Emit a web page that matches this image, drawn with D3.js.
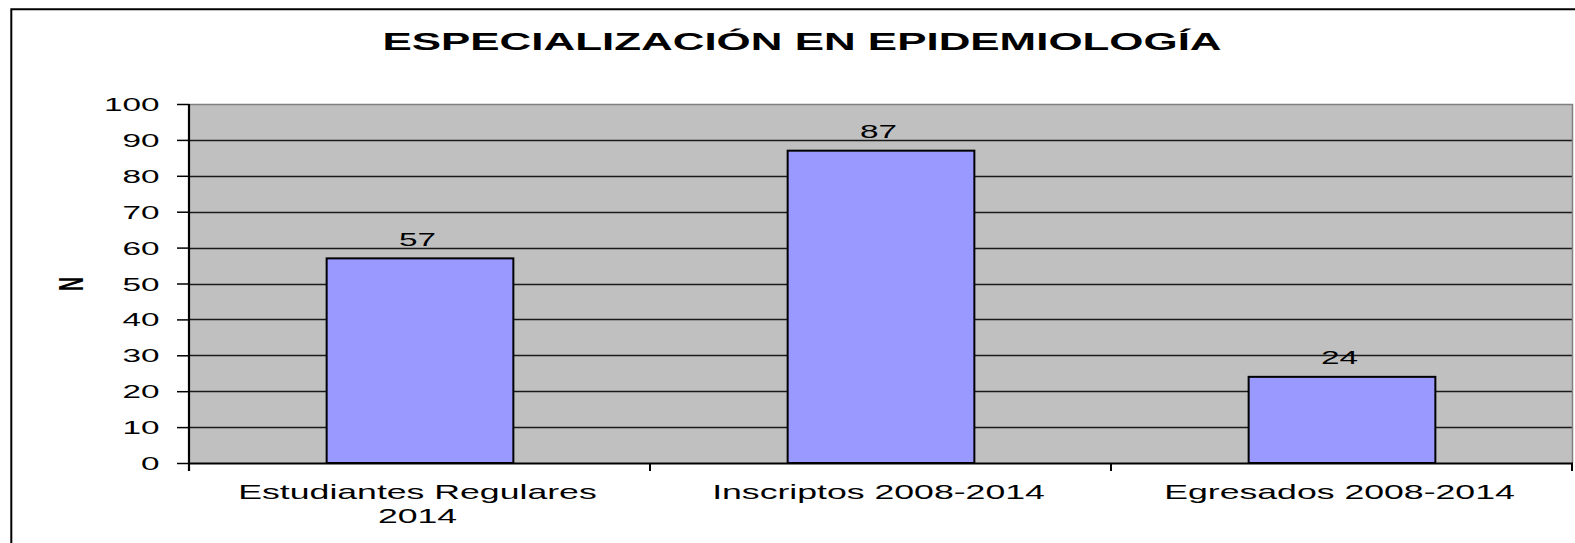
<!DOCTYPE html>
<html>
<head>
<meta charset="utf-8">
<script src="https://cdn.jsdelivr.net/npm/d3@7"></script>
<style>
  html, body { margin: 0; padding: 0; background: #ffffff; }
  svg { display: block; }
  text { font-family: "Liberation Sans", Arial, sans-serif; fill: #000; }
</style>
</head>
<body>
<svg id="chart" width="1575" height="543"></svg>
<script>
// Chart content
const chartTitle = "ESPECIALIZACIÓN EN EPIDEMIOLOGÍA";
const yAxisTitle = "N";
const categories = ["Estudiantes Regulares\n2014", "Inscriptos 2008-2014", "Egresados 2008-2014"];
const values = [57, 87, 24];
const yTicks = [0, 10, 20, 30, 40, 50, 60, 70, 80, 90, 100];

// Layout
const W = 1575, H = 543;
const plot = { left: 189, right: 1572, top: 104, bottom: 463 };
const SX = 1.8; // horizontal stretch applied to all text glyphs

const svg = d3.select("#chart");

// Outer frame (open to the right and bottom, cropped there)
svg.append("path")
  .attr("d", `M11.3,${H + 2} L11.3,9.3 L${W + 2},9.3`)
  .attr("fill", "none").attr("stroke", "#000").attr("stroke-width", 2);

const x = d3.scaleBand().domain(categories).range([plot.left, plot.right]).padding(0);
const y = d3.scaleLinear().domain([0, 100]).range([plot.bottom, plot.top]);

// Plot background
svg.append("rect")
  .attr("x", plot.left).attr("y", plot.top)
  .attr("width", plot.right - plot.left).attr("height", plot.bottom - plot.top)
  .attr("fill", "#c0c0c0");

// Horizontal gridlines
svg.append("g").selectAll("line")
  .data(yTicks.filter(t => t > 0 && t < 100))
  .join("line")
  .attr("x1", plot.left).attr("x2", plot.right)
  .attr("y1", d => Math.round(y(d)) + 0.5).attr("y2", d => Math.round(y(d)) + 0.5)
  .attr("stroke", "#1a1a1a").attr("stroke-width", 1.3);

// Plot area border top / right
svg.append("path")
  .attr("d", `M${plot.left},${plot.top + 0.5} L${plot.right + 0.5},${plot.top + 0.5} L${plot.right + 0.5},${plot.bottom}`)
  .attr("fill", "none").attr("stroke", "#808080").attr("stroke-width", 1.5);

// Bars
const barW = x.bandwidth() * 0.405;
svg.append("g").selectAll("rect")
  .data(values)
  .join("rect")
  .attr("x", (d, i) => x(categories[i]) + x.bandwidth() / 2 - barW / 2 + 0.5)
  .attr("y", d => y(d))
  .attr("width", barW)
  .attr("height", d => y(0) - y(d))
  .attr("fill", "#9999ff")
  .attr("stroke", "#000").attr("stroke-width", 2);

// Value labels
svg.append("g").selectAll("text")
  .data(values)
  .join("text")
  .attr("transform", (d, i) => `translate(${x(categories[i]) + x.bandwidth() / 2 - 2},${y(d) - 12.5}) scale(${SX},1)`)
  .attr("text-anchor", "middle")
  .attr("font-size", 18.5)
  .text(d => d);

// Y axis
const yAxis = svg.append("g")
  .attr("transform", `translate(${plot.left},0)`)
  .call(d3.axisLeft(y).tickValues(yTicks).tickSize(12).tickFormat(d3.format("d")));
yAxis.select(".domain").remove();
yAxis.selectAll(".tick line").attr("stroke", "#000").attr("stroke-width", 1.5);
yAxis.selectAll(".tick text")
  .attr("x", null).attr("dy", null)
  .attr("transform", `translate(-29.5,6.5) scale(${SX},1)`)
  .attr("text-anchor", "end")
  .attr("font-size", 18.5)
  .attr("font-family", "Liberation Sans, Arial, sans-serif")
  .attr("fill", "#000");

// Axis lines
svg.append("line")
  .attr("x1", plot.left).attr("x2", plot.left)
  .attr("y1", plot.top).attr("y2", plot.bottom + 8)
  .attr("stroke", "#000").attr("stroke-width", 2.2);
svg.append("line")
  .attr("x1", plot.left).attr("x2", plot.right + 1)
  .attr("y1", plot.bottom + 0.5).attr("y2", plot.bottom + 0.5)
  .attr("stroke", "#000").attr("stroke-width", 2);

// Category boundary ticks
svg.append("g").selectAll("line")
  .data(categories)
  .join("line")
  .attr("x1", d => x(d) + x.bandwidth()).attr("x2", d => x(d) + x.bandwidth())
  .attr("y1", plot.bottom).attr("y2", plot.bottom + 8)
  .attr("stroke", "#000").attr("stroke-width", 2);

// Category labels
const catLabels = svg.append("g").selectAll("text")
  .data(categories)
  .join("text")
  .attr("transform", d => `translate(${x(d) + x.bandwidth() / 2 - 2},498.7) scale(${SX},1)`)
  .attr("text-anchor", "middle")
  .attr("font-size", 19.8);
catLabels.each(function (d) {
  const lines = d.split("\n");
  d3.select(this).selectAll("tspan")
    .data(lines)
    .join("tspan")
    .attr("x", 0)
    .attr("dy", (l, i) => i === 0 ? 0 : 24.5)
    .text(l => l);
});

// Title
svg.append("text")
  .attr("transform", `translate(802,50) scale(${SX},1)`)
  .attr("text-anchor", "middle")
  .attr("font-size", 24.4)
  .attr("font-weight", "bold")
  .text(chartTitle);

// Y axis title
svg.append("text")
  .attr("transform", `translate(70,284) scale(${SX},1) rotate(-90)`)
  .attr("text-anchor", "middle")
  .attr("dy", 7)
  .attr("font-size", 19.5)
  .attr("font-weight", "bold")
  .text(yAxisTitle);
</script>
</body>
</html>
